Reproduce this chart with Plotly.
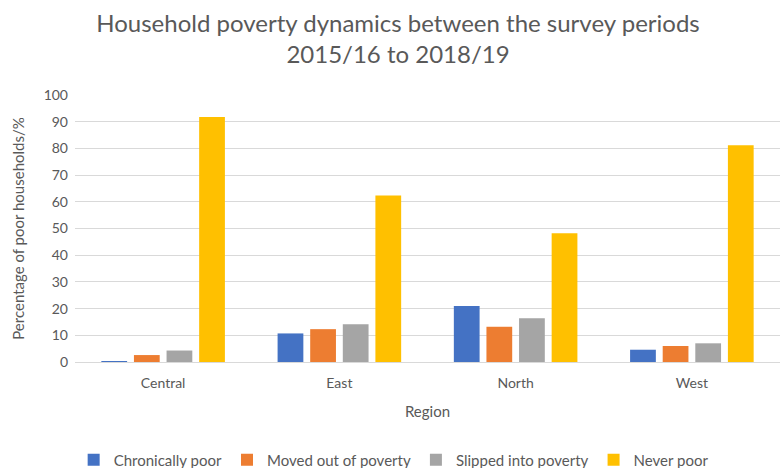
import plotly.graph_objects as go

regions = ["Central", "East", "North", "West"]
series_names = ["Chronically poor", "Moved out of poverty", "Slipped into poverty", "Never poor"]
chronically_poor = [0.3, 10.7, 21.0, 4.6]
moved_out = [2.6, 12.3, 13.2, 6.0]
slipped_into = [4.3, 14.1, 16.4, 7.0]
never_poor = [91.8, 62.4, 48.2, 81.2]
colors = ["#4472C4", "#ED7D31", "#A5A5A5", "#FFC000"]
y_ticks = [0, 10, 20, 30, 40, 50, 60, 70, 80, 90, 100]

font_family = "Lato, 'Open Sans', sans-serif"
text_color = "#595959"

fig = go.Figure()
for name, vals, col in zip(series_names, [chronically_poor, moved_out, slipped_into, never_poor], colors):
    fig.add_trace(go.Bar(name=name, x=regions, y=vals, marker=dict(color=col, line=dict(width=0))))

fig.update_layout(
    width=782, height=468,
    paper_bgcolor="white", plot_bgcolor="white",
    font=dict(family=font_family, color=text_color, size=13),
    title=dict(text="Household poverty dynamics between the survey periods<br>2015/16 to 2018/19",
               x=398 / 782, xanchor="center", y=1 - 32 / 468, yanchor="middle",
               font=dict(size=24, color=text_color, family=font_family)),
    margin=dict(l=75, r=2, t=95, b=106, autoexpand=False),
    barmode="group", bargap=0.26, bargroupgap=0.21,
    showlegend=True,
    legend=dict(orientation="h", x=0.452, xanchor="center", y=-98 / 267, yanchor="middle",
                font=dict(size=15, color=text_color), traceorder="normal"),
    xaxis=dict(title=dict(text="Region", font=dict(size=15, color=text_color), standoff=16),
               showline=True, linecolor="#D9D9D9", linewidth=1, ticks="", automargin=False,
               ticklabelstandoff=8, tickfont=dict(size=14, color=text_color)),
    yaxis=dict(title=dict(text="Percentage of poor households/%", font=dict(size=15, color=text_color), standoff=15),
               range=[0, 100], tickvals=y_ticks, showgrid=True, gridcolor="#D9D9D9", gridwidth=1,
               zeroline=False, showline=False, automargin=False, ticklabelstandoff=6,
               tickfont=dict(size=14, color=text_color)),
)

fig.write_html("out.html", config={"displayModeBar": False},
               post_script="document.body.style.margin='0';document.body.style.padding='0';")
